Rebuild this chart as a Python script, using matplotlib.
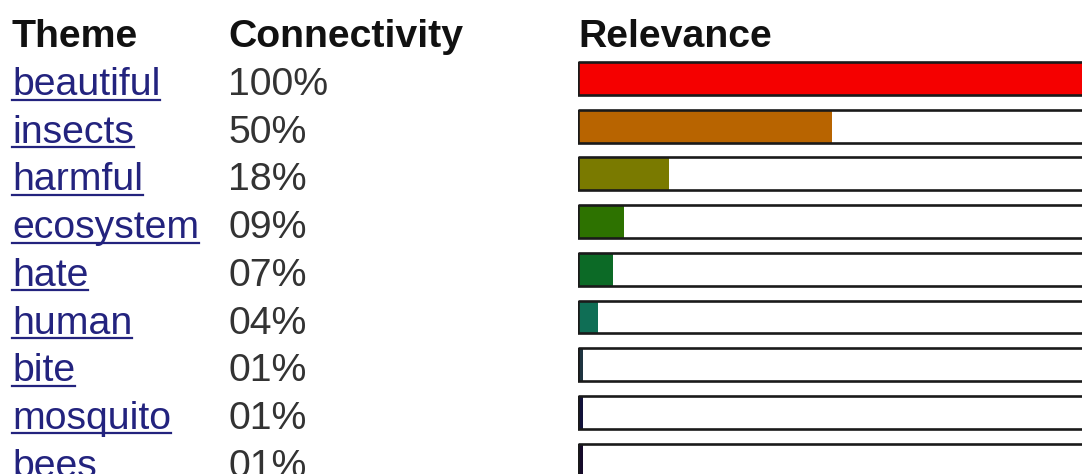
import matplotlib
matplotlib.use('Agg')
import matplotlib.pyplot as plt
import matplotlib.transforms as mtransforms
from matplotlib.lines import Line2D

# --- data ---
themes = ['beautiful', 'insects', 'harmful', 'ecosystem', 'hate',
          'human', 'bite', 'mosquito', 'bees']
connectivity = [100, 50, 18, 9, 7, 4, 1, 1, 1]
bar_colors = ['#f50000', '#b86400', '#7a7a00', '#2d7200', '#0c6a26',
              '#0f6e55', '#1e3440', '#12123a', '#160a2a']
headers = ['Theme', 'Connectivity', 'Relevance']

plt.rcParams['font.family'] = ['Liberation Sans', 'DejaVu Sans']

W, H = 1082, 474
fig = plt.figure(figsize=(W / 100, H / 100), dpi=100)
fig.patch.set_facecolor('white')

# bar axes: starts at x=578px, full height
bar_left = 578 / W
ax = fig.add_axes([bar_left, 0, 1 - bar_left, 1])
ax.axis('off')

row_h = 47.7   # pixel step between rows
row0 = 78.5    # pixel centre of first bar
ax.set_ylim((H - row0) / row_h, -row0 / row_h)
ax.set_xlim(0, 100 * 504 / 507)

y = list(range(len(themes)))
ax.barh(y, connectivity, height=0.69, color=bar_colors, edgecolor='none')
ax.barh(y, [100] * len(y), height=0.69, color='none',
        edgecolor='#1a1a1a', linewidth=1.9)

# texts: x in figure fraction, y in row units
tr = mtransforms.blended_transform_factory(fig.transFigure, ax.transData)
base_off = 16.5 / row_h
col_x = [12 / W, 228 / W, 578 / W]
fs = 28.3

for cx, h in zip(col_x, headers):
    ax.text(cx, -1 + base_off, h, transform=tr, fontsize=fs,
            fontweight='bold', color='#111111', va='baseline', ha='left',
            clip_on=False)

link_texts = []
for i, (t, v) in enumerate(zip(themes, connectivity)):
    lt = ax.text(col_x[0], i + base_off, t, transform=tr, fontsize=fs,
                 color='#23237e', va='baseline', ha='left', clip_on=False)
    link_texts.append((lt, i))
    ax.text(col_x[1], i + base_off, '%02d%%' % v, transform=tr,
            fontsize=fs, color='#333333', va='baseline', ha='left',
            clip_on=False)

# underline the theme links
fig.canvas.draw()
renderer = fig.canvas.get_renderer()
for lt, i in link_texts:
    bb = lt.get_window_extent(renderer)
    x0, x1 = bb.x0 / W, bb.x1 / W
    yb = ax.transData.transform((0, i + base_off))[1] - 4.5
    fig.add_artist(Line2D([x0, x1], [yb / H, yb / H], color='#23237e',
                          linewidth=1.6, transform=fig.transFigure))

fig.savefig('out.png', dpi=100, facecolor='white')
